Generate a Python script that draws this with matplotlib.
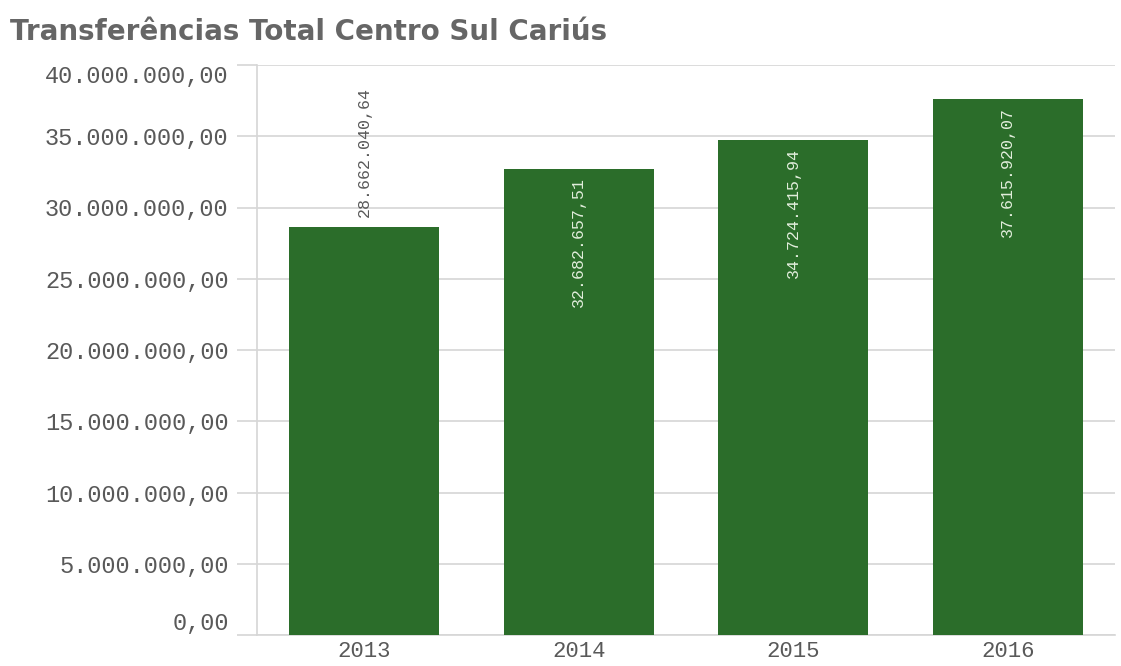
import matplotlib
matplotlib.use("Agg")
import matplotlib.pyplot as plt
from matplotlib.ticker import FixedLocator
from matplotlib.transforms import offset_copy

years = ["2013", "2014", "2015", "2016"]
values = [28662040.64, 32682657.51, 34724415.94, 37615920.07]
labels = ["28.662.040,64", "32.682.657,51", "34.724.415,94", "37.615.920,07"]
yticks = [0, 5e6, 10e6, 15e6, 20e6, 25e6, 30e6, 35e6, 40e6]
ytick_labels = ["0,00", "5.000.000,00", "10.000.000,00", "15.000.000,00", "20.000.000,00",
                "25.000.000,00", "30.000.000,00", "35.000.000,00", "40.000.000,00"]
inside = [False, True, True, True]

bar_color = "#2b6d2a"
grid_color = "#d6d6d6"
text_gray = "#595959"
mono = ["Liberation Mono", "DejaVu Sans Mono"]

fig = plt.figure(figsize=(11.21, 6.66), dpi=100)
ax = fig.add_axes([257/1121, 1-635/666, (1115-257)/1121, (635-65)/666])

x = list(range(len(years)))
ax.bar(x, values, width=0.70, color=bar_color, zorder=3)
ax.set_xlim(-0.5, 3.5)
ax.set_ylim(0, 40e6)

ax.yaxis.set_major_locator(FixedLocator(yticks))
ax.set_yticklabels(ytick_labels, family=mono, fontsize=17, color=text_gray)
ax.set_xticks(x)
ax.set_xticklabels(years, family=mono, fontsize=16, color=text_gray)

ax.grid(axis="y", color=grid_color, linewidth=1.2, zorder=0)
for s in ["top", "right"]:
    ax.spines[s].set_visible(False)
ax.spines["left"].set_color(grid_color)
ax.spines["bottom"].set_color(grid_color)
ax.spines["left"].set_linewidth(1.2)
ax.spines["bottom"].set_linewidth(1.2)
ax.tick_params(axis="y", length=14.4, width=1.2, color=grid_color, pad=6)
ax.tick_params(axis="x", length=0, pad=4)

tl = ax.get_yticklabels()
tl[-1].set_va("top")
tl[0].set_va("bottom")

for xi, v, lab, ins in zip(x, values, labels, inside):
    if ins:
        ax.annotate(lab, (xi, v), xytext=(0, -8), textcoords="offset pixels",
                    rotation=90, ha="center", va="top", color="#e2eedc",
                    family=mono, fontsize=12, zorder=4)
    else:
        ax.annotate(lab, (xi, v), xytext=(0, 10), textcoords="offset pixels",
                    rotation=90, ha="center", va="bottom", color=text_gray,
                    family=mono, fontsize=12, zorder=4)

fig.text(10/1121, 1-32/666, "Transferências Total Centro Sul Cariús", fontsize=20,
         fontweight="bold", family="DejaVu Sans", color="#666666", va="center", ha="left")

fig.savefig("out.png", dpi=100)
